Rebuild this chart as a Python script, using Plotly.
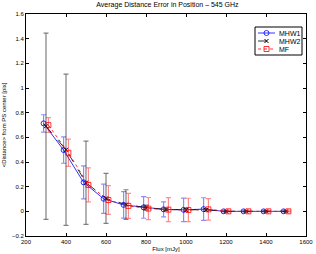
import plotly.graph_objects as go

flux = [300, 400, 500, 600, 700, 800, 900, 1000, 1100, 1200, 1300, 1400, 1500]

mhw1 = [0.713, 0.497, 0.235, 0.102, 0.052, 0.032, 0.016, 0.012, 0.018, 0.0, 0.0, 0.0, 0.0]
mhw1_err = [0.07, 0.107, 0.134, 0.118, 0.107, 0.088, 0.061, 0.095, 0.092, 0.004, 0.004, 0.004, 0.004]

mhw2 = [0.69, 0.499, 0.232, 0.105, 0.055, 0.03, 0.015, 0.012, 0.012, 0.0, 0.0, 0.0, 0.0]
mhw2_err = [0.755, 0.613, 0.337, 0.202, 0.12, 0.02, 0.01, 0.01, 0.01, 0.003, 0.003, 0.003, 0.003]

mf = [0.699, 0.475, 0.214, 0.092, 0.044, 0.022, 0.014, 0.011, 0.016, 0.0, 0.0, 0.0, 0.0]
mf_err = [0.06, 0.11, 0.138, 0.116, 0.101, 0.09, 0.097, 0.095, 0.087, 0.004, 0.004, 0.004, 0.004]

series_names = ["MHW1", "MHW2", "MF"]

offset = 12
FONT = "Liberation Sans, Arial"

styles = [
    dict(line=dict(color="#0000ff", width=0.8),
         marker=dict(symbol="circle-open", color="#0000ff", size=5, line=dict(width=0.8)),
         ecolor="rgba(0,0,255,0.45)"),
    dict(line=dict(color="#000000", width=0.8, dash="dash"),
         marker=dict(symbol="x-thin-open", color="#000000", size=4, line=dict(width=1, color="#000000")),
         ecolor="rgba(0,0,0,0.5)"),
    dict(line=dict(color="#ff0000", width=0.8, dash="dot"),
         marker=dict(symbol="square-open", color="#ff0000", size=5, line=dict(width=0.8)),
         ecolor="rgba(255,0,0,0.45)"),
]

xs = [[f - offset for f in flux], flux, [f + offset for f in flux]]
ys = [mhw1, mhw2, mf]
errs = [mhw1_err, mhw2_err, mf_err]

fig = go.Figure()
for name, x, y, e, st in zip(series_names, xs, ys, errs, styles):
    fig.add_trace(go.Scatter(
        x=x, y=y, name=name, mode="lines+markers",
        line=st["line"], marker=st["marker"], showlegend=False,
        error_y=dict(type="data", array=e, color=st["ecolor"], thickness=1.2, width=2.5),
    ))

# custom compact legend on an overlay axis measured in pixels of the plot area
L, R, T, B = 26, 306, 14, 236
box_x0, box_x1, box_y0, box_y1 = 255, 302, 27, 55
fig.add_shape(type="rect", xref="x2", yref="y2", x0=box_x0, x1=box_x1, y0=box_y0, y1=box_y1,
              line=dict(color="#000000", width=1), fillcolor="#ffffff", layer="below")
row_y = [33, 41, 49]
for name, st, ry in zip(series_names, styles, row_y):
    fig.add_trace(go.Scatter(
        x=[258, 275], y=[ry, ry], xaxis="x2", yaxis="y2", mode="lines",
        line=st["line"], showlegend=False, hoverinfo="skip"))
    fig.add_trace(go.Scatter(
        x=[266.5], y=[ry], xaxis="x2", yaxis="y2", mode="markers",
        marker=st["marker"], showlegend=False, hoverinfo="skip"))
    fig.add_annotation(x=277, y=ry, xref="x2", yref="y2", text=name, showarrow=False,
                       xanchor="left", yanchor="middle",
                       font=dict(family=FONT, size=7, color="#000000"))

axis_common = dict(
    showline=True, linecolor="#000000", linewidth=1, mirror="ticks",
    ticks="inside", ticklen=3, tickcolor="#000000", showgrid=False, zeroline=False,
    automargin=False,
    tickfont=dict(family=FONT, size=6, color="#000000"),
)

fig.update_layout(
    width=316, height=254,
    margin=dict(l=L, r=316 - R, t=T, b=254 - B),
    paper_bgcolor="#ffffff", plot_bgcolor="#ffffff",
    title=dict(text="Average Distance Error in Position \u2013 545 GHz", x=0.53, xanchor="center",
               y=0.99, yanchor="top",
               font=dict(family=FONT, size=7, color="#000000")),
    xaxis=dict(range=[200, 1600], tickvals=[200, 400, 600, 800, 1000, 1200, 1400, 1600],
               title=dict(text="Flux [mJy]", standoff=2,
                          font=dict(family=FONT, size=6, color="#000000")),
               **axis_common),
    yaxis=dict(range=[-0.2, 1.6], tickvals=[-0.2, 0, 0.2, 0.4, 0.6, 0.8, 1.0, 1.2, 1.4, 1.6],
               ticktext=["\u22120.2", "0", "0.2", "0.4", "0.6", "0.8", "1", "1.2", "1.4", "1.6"],
               title=dict(text="<Distance> from PS center [pix]", standoff=4,
                          font=dict(family=FONT, size=6, color="#000000")),
               **axis_common),
    xaxis2=dict(overlaying="x", range=[L, R], visible=False, fixedrange=True),
    yaxis2=dict(overlaying="y", range=[B, T], visible=False, fixedrange=True),
    showlegend=False,
)

fig.write_html("out.html", config={"displayModeBar": False},
               post_script="document.body.style.margin='0';document.body.style.overflow='hidden';")
